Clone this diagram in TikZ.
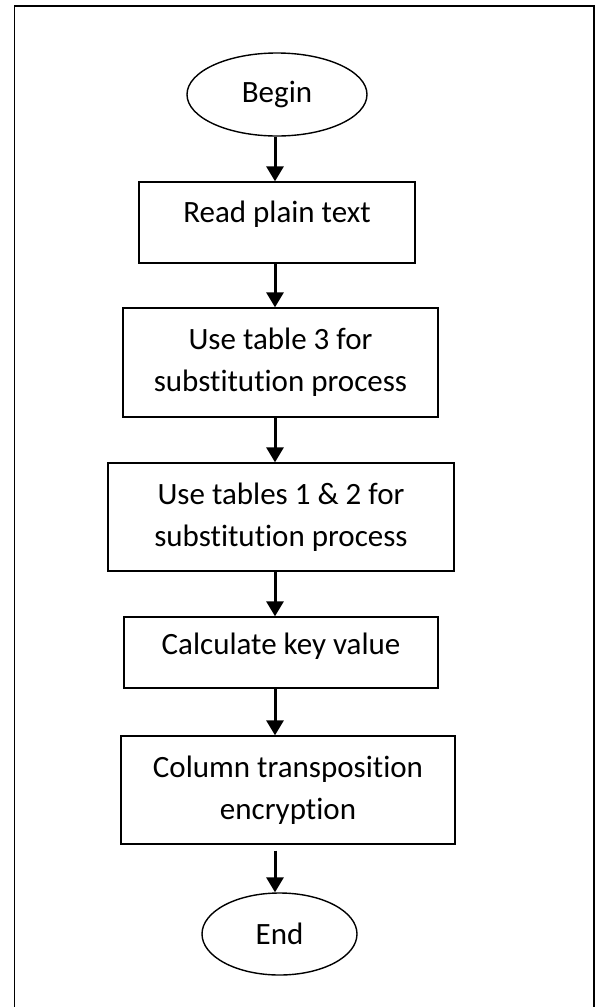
\documentclass[tikz,border=0pt]{standalone}
\usepackage{fontspec}
\setmainfont[Ligatures=NoCommon]{Carlito}
\usetikzlibrary{shapes.geometric,arrows.meta,calc}
\begin{document}
\begin{tikzpicture}[x=1pt,y=1pt,
  every node/.style={font=\fontsize{31}{42}\selectfont, align=center, line width=1.4pt},
  procbox/.style={draw, rectangle, inner sep=0pt},
  term/.style={draw, ellipse, inner sep=0pt},
  arr/.style={line width=3pt, -{Triangle[width=17pt,length=15pt]}},
  frame/.style={line width=1.8pt}]
\useasboundingbox (0,0) rectangle (597,-1007);
\draw[frame] (14.5,-1010) -- (14.5,-6) -- (594,-6) -- (594,-1010);
\coordinate (ax) at (275,0);
\node[term, minimum width=180, minimum height=83] (begin) at (277,-94.5) {Begin};
\node[procbox, minimum width=276, minimum height=81, text height=15pt, text depth=15pt] (read) at (277,-222.5) {Read plain text};
\node[procbox, minimum width=315, minimum height=109] (sub3) at (280.5,-362.5) {Use table 3 for\\substitution process};
\node[procbox, minimum width=346, minimum height=108] (sub12) at (281,-517) {Use tables 1 \& 2 for\\substitution process};
\node[procbox, minimum width=314, minimum height=71, text height=18pt, text depth=14pt] (key) at (281,-652.5) {Calculate key value};
\node[procbox, minimum width=334, minimum height=108] (col) at (288,-790) {Column transposition\\encryption};
\node[term, minimum width=155, minimum height=82] (end) at (279.5,-934) {End};
\draw[arr] (begin.south -| ax) -- (read.north -| ax);
\draw[arr] (read.south -| ax) -- (sub3.north -| ax);
\draw[arr] (sub3.south -| ax) -- (sub12.north -| ax);
\draw[arr] (sub12.south -| ax) -- (key.north -| ax);
\draw[arr] (key.south -| ax) -- (col.north -| ax);
\draw[arr] ($(col.south -| ax)+(0,-6)$) -- (end.north -| ax);
\end{tikzpicture}
\end{document}
